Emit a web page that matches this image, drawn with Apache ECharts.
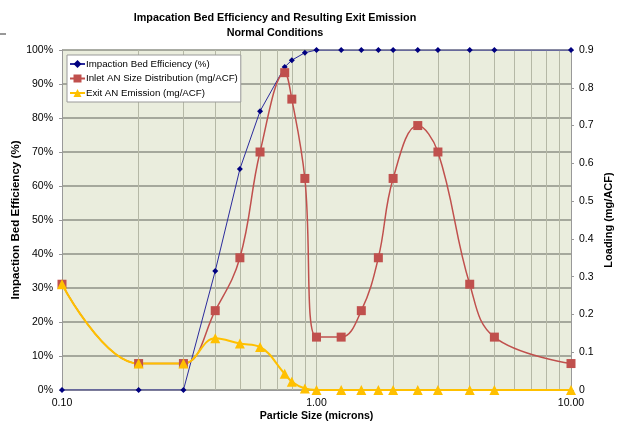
<!DOCTYPE html>
<html>
<head>
<meta charset="utf-8">
<script src="https://cdn.jsdelivr.net/npm/echarts@6/dist/echarts.min.js"></script>
<style>
html, body { margin: 0; padding: 0; background: #fff; }
#chart { width: 617px; height: 422px; }
</style>
</head>
<body>
<div id="chart"></div>
<script>
// particle sizes (microns)
const sizes = [0.1, 0.2, 0.3, 0.4, 0.5, 0.6, 0.75, 0.8, 0.9, 1.0, 1.25, 1.5, 1.75, 2.0, 2.5, 3.0, 4.0, 5.0, 10.0];
// impaction bed efficiency (%)
const efficiency = [0, 0, 0, 35, 65, 82, 95, 97, 99.2, 100, 100, 100, 100, 100, 100, 100, 100, 100, 100];
// inlet AN size distribution (mg/ACF)
const inlet = [0.28, 0.07, 0.07, 0.21, 0.35, 0.63, 0.84, 0.77, 0.56, 0.14, 0.14, 0.21, 0.35, 0.56, 0.70, 0.63, 0.28, 0.14, 0.07];
// exit AN emission (mg/ACF)
const exitEmission = [0.28, 0.07, 0.07, 0.137, 0.123, 0.114, 0.043, 0.022, 0.004, 0, 0, 0, 0, 0, 0, 0, 0, 0, 0];
// minor vertical grid lines on the log axis
const minorGrid = [0.2, 0.3, 0.4, 0.5, 0.6, 0.7, 0.8, 0.9, 2, 3, 4, 5, 6, 7, 8, 9];

const font = 'Liberation Sans, Arial, sans-serif';
const pair = (xs, ys) => xs.map((x, i) => [x, ys[i]]);

const myChart = echarts.init(document.getElementById('chart'));

const option = {
    backgroundColor: '#fff',
    animation: false,
    textStyle: { fontFamily: font },
    title: {
        text: 'Impacation Bed Efficiency and Resulting Exit Emission\nNormal Conditions',
        left: 270,
        top: 6,
        textAlign: 'center',
        textStyle: { fontSize: 10.8, fontWeight: 'bold', color: '#000', lineHeight: 15, fontFamily: font }
    },
    legend: {
        orient: 'vertical',
        left: 67,
        top: 55,
        backgroundColor: '#fff',
        borderColor: '#999',
        borderWidth: 1,
        borderRadius: 0,
        padding: [4, 3, 4, 2],
        itemGap: 4.5,
        itemWidth: 15,
        itemHeight: 10,
        textStyle: { fontSize: 9.7, color: '#000', fontFamily: font, padding: [0, 0, 0, -4] },
        data: ['Impaction Bed Efficiency (%)', 'Inlet AN Size Distribution (mg/ACF)', 'Exit AN Emission (mg/ACF)']
    },
    grid: {
        left: 62,
        right: 46,
        top: 50,
        bottom: 32,
        outerBoundsMode: 'none',
        containLabel: false,
        show: true,
        backgroundColor: '#eaeddd',
        borderWidth: 0
    },
    xAxis: {
        type: 'log',
        logBase: 10,
        min: 0.1,
        max: 10,
        name: 'Particle Size (microns)',
        nameLocation: 'middle',
        nameGap: 21,
        nameMoveOverlap: false,
        nameTextStyle: { fontSize: 10.6, fontWeight: 'bold', color: '#000', fontFamily: font },
        axisLine: { lineStyle: { color: '#999', width: 1 } },
        axisTick: { show: false },
        axisLabel: { fontSize: 10.5, color: '#000', margin: 8, formatter: v => v.toFixed(2) },
        splitLine: { show: true, lineStyle: { color: '#b5b8a6', width: 1 } }
    },
    yAxis: [
        {
            type: 'value',
            min: 0,
            max: 100,
            interval: 10,
            name: 'Impaction Bed Efficiency (%)',
            nameLocation: 'middle',
            nameRotate: 90,
            nameGap: 40,
            nameMoveOverlap: false,
            nameTextStyle: { fontSize: 11.6, fontWeight: 'bold', color: '#000', fontFamily: font },
            axisLine: { show: true, lineStyle: { color: '#999' } },
            axisTick: { show: true, length: 3, lineStyle: { color: '#999' } },
            axisLabel: { fontSize: 10.5, color: '#000', margin: 9, formatter: '{value}%' },
            splitLine: { show: true, lineStyle: { color: '#8e9086', width: 1.5 } }
        },
        {
            type: 'value',
            min: 0,
            max: 0.9,
            interval: 0.1,
            name: 'Loading (mg/ACF)',
            nameLocation: 'middle',
            nameRotate: 90,
            nameGap: 32,
            nameMoveOverlap: false,
            nameTextStyle: { fontSize: 11, fontWeight: 'bold', color: '#000', fontFamily: font },
            axisLine: { show: true, lineStyle: { color: '#999' } },
            axisTick: { show: true, length: 3, lineStyle: { color: '#999' } },
            axisLabel: { fontSize: 10.5, color: '#000', margin: 8 },
            splitLine: { show: false }
        }
    ],
    series: [
        {
            name: 'Impaction Bed Efficiency (%)',
            type: 'line',
            yAxisIndex: 0,
            symbol: 'diamond',
            symbolSize: 6,
            itemStyle: { color: '#000080' },
            lineStyle: { color: '#2b2b9c', width: 1 },
            data: pair(sizes, efficiency),
            markLine: {
                silent: true,
                z: 1,
                symbol: 'none',
                label: { show: false },
                lineStyle: { color: '#b5b8a6', width: 1, type: 'solid' },
                data: minorGrid.map(v => ({ xAxis: v }))
            }
        },
        {
            name: 'Inlet AN Size Distribution (mg/ACF)',
            type: 'line',
            yAxisIndex: 1,
            smooth: 0.4,
            symbol: 'rect',
            symbolSize: 9,
            itemStyle: { color: '#c0504d' },
            lineStyle: { color: '#c0504d', width: 1.5 },
            data: pair(sizes, inlet)
        },
        {
            name: 'Exit AN Emission (mg/ACF)',
            type: 'line',
            yAxisIndex: 1,
            smooth: 0.4,
            symbol: 'triangle',
            symbolSize: 10,
            itemStyle: { color: '#ffc000' },
            lineStyle: { color: '#ffc000', width: 2 },
            data: pair(sizes, exitEmission)
        }
    ],
    graphic: [
        { type: 'line', shape: { x1: 0, y1: 34, x2: 6, y2: 34 }, style: { stroke: '#333', lineWidth: 1 } }
    ]
};

myChart.setOption(option);
</script>
</body>
</html>
